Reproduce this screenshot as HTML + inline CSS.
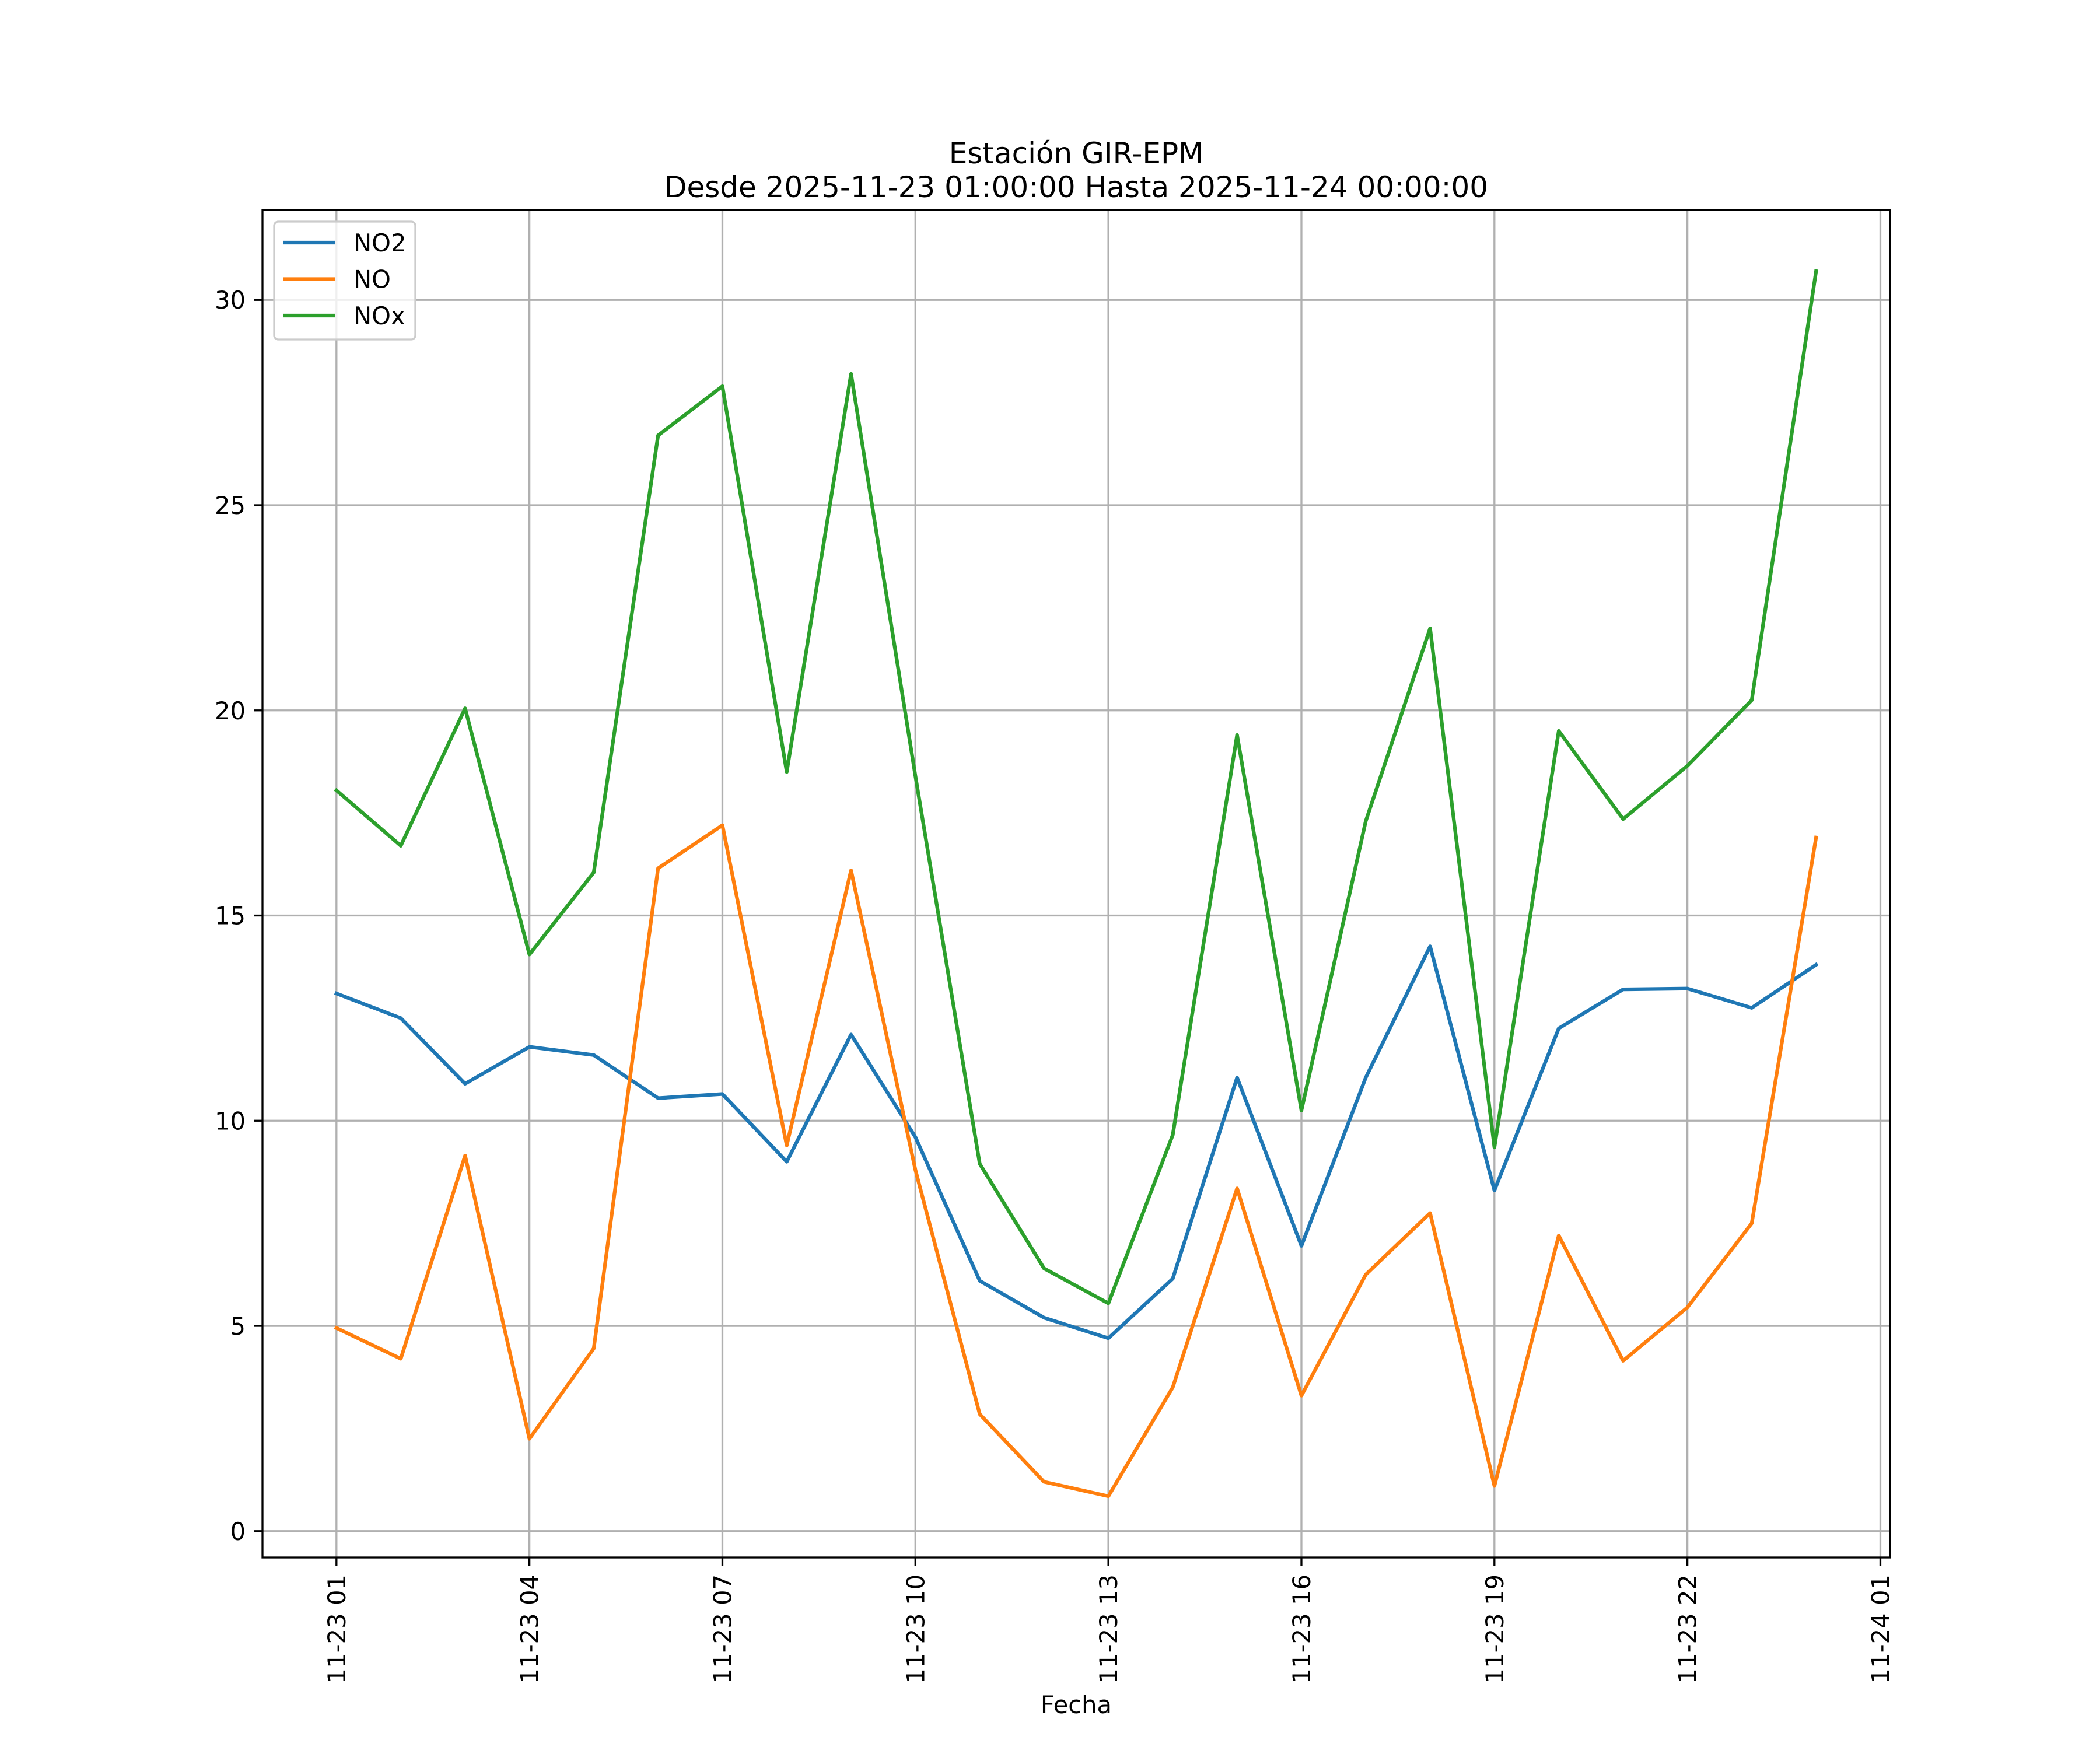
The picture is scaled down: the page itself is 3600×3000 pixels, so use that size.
<!DOCTYPE html>
<html><head><meta charset="utf-8"><style>body{margin:0;background:#fff}svg{display:block}text{font-family:"DejaVu Sans","Liberation Sans",sans-serif}</style></head>
<body>
<svg id="chart" width="3600" height="3000" xmlns="http://www.w3.org/2000/svg">
<rect width="3600" height="3000" fill="#fff"/>
<text x="1845" y="280" font-size="50" text-anchor="middle">Estación GIR-EPM</text>
<text x="1845" y="338" font-size="50" text-anchor="middle">Desde 2025-11-23 01:00:00 Hasta 2025-11-24 00:00:00</text>
<g id="grid"></g><g id="series"></g><g id="axes"></g>
<text x="1845" y="2937" font-size="41.7" text-anchor="middle">Fecha</text>
</svg>
<script>
const hours = [1,2,3,4,5,6,7,8,9,10,11,12,13,14,15,16,17,18,19,20,21,22,23,24];
const no2 = [13.1,12.5,10.9,11.8,11.6,10.55,10.65,9.0,12.1,9.6,6.1,5.2,4.7,6.15,11.05,6.95,11.05,14.25,8.3,12.25,13.2,13.22,12.75,13.8];
const no = [4.95,4.2,9.15,2.25,4.45,16.15,17.2,9.4,16.1,8.8,2.85,1.2,0.85,3.5,8.35,3.3,6.25,7.75,1.1,7.2,4.15,5.45,7.5,16.9];
const nox = [18.05,16.7,20.05,14.05,16.05,26.7,27.9,18.5,28.2,18.4,8.95,6.4,5.55,9.65,19.4,10.25,17.3,22.0,9.35,19.5,17.35,18.65,20.25,30.7];
const xTicks = [1,4,7,10,13,16,19,22,25];
const xTickLabels = ["11-23 01","11-23 04","11-23 07","11-23 10","11-23 13","11-23 16","11-23 19","11-23 22","11-24 01"];
const yTicks = [0,5,10,15,20,25,30];
const seriesNames = ["NO2","NO","NOx"];
const colors = ["#1f77b4","#ff7f0e","#2ca02c"];

const L=450,R=3240,T=360,B=2670,NS="http://www.w3.org/2000/svg";
const all=[...no2,...no,...nox];
const dmin=Math.min(...all),dmax=Math.max(...all),ds=dmax-dmin;
const y0=dmin-0.05*ds,y1=dmax+0.05*ds;
const x0h=hours[0],x1h=hours[hours.length-1],xs=x1h-x0h;
const xa=x0h-0.05*xs,xb=x1h+0.05*xs;
const X=h=>L+(h-xa)/(xb-xa)*(R-L);
const Y=v=>B-(v-y0)/(y1-y0)*(B-T);
function el(tag,attrs,parent){const e=document.createElementNS(NS,tag);for(const k in attrs)e.setAttribute(k,attrs[k]);parent.appendChild(e);return e;}
const grid=document.getElementById('grid'),ser=document.getElementById('series'),axes=document.getElementById('axes');
xTicks.forEach((h,i)=>{const x=X(h);
 let g=el('line',{x1:x,x2:x,y1:T,y2:B,stroke:'#b0b0b0','stroke-width':3.3},grid);
 
 
 let t=el('line',{x1:x,x2:x,y1:B,y2:B+14.6,stroke:'#000','stroke-width':3.3},axes);
 
 
 let tx=el('text',{x:0,y:0,'font-size':41.7,'text-anchor':'end',transform:`translate(${x+15},${B+29}) rotate(-90)`},axes);
 tx.textContent=xTickLabels[i];
 
 
});
yTicks.forEach(v=>{const y=Y(v);
 let g=el('line',{x1:L,x2:R,y1:y,y2:y,stroke:'#b0b0b0','stroke-width':3.3},grid);
 
 
 let t=el('line',{x1:L-14.6,x2:L,y1:y,y2:y,stroke:'#000','stroke-width':3.3},axes);
 
 
 let tx=el('text',{x:L-29,y:y+15,'font-size':41.7,'text-anchor':'end'},axes);
 tx.textContent=String(v);
 
 
});
[no2,no,nox].forEach((d,i)=>{
 let p=el('polyline',{points:d.map((v,j)=>X(hours[j])+','+Y(v)).join(' '),fill:'none',stroke:colors[i],'stroke-width':6.25,'stroke-linejoin':'round','stroke-linecap':'square'},ser);
 
 
});
let fr=el('rect',{x:L,y:T,width:R-L,height:B-T,fill:'none',stroke:'#000','stroke-width':3.3},axes);


const lg=el('g',{},axes);


el('rect',{x:470,y:380,width:242,height:202,rx:7,fill:'#fff','fill-opacity':0.8,stroke:'#cccccc','stroke-width':3.3},lg);
seriesNames.forEach((n,i)=>{const y=416+i*62.5;
 const e=el('g',{},lg);
 
 
 el('line',{x1:485,x2:574,y1:y,y2:y,stroke:colors[i],'stroke-width':6.25},e);
 const t=el('text',{x:606,y:y+15,'font-size':41.7},e);t.textContent=n;
});
</script>
</body></html>
